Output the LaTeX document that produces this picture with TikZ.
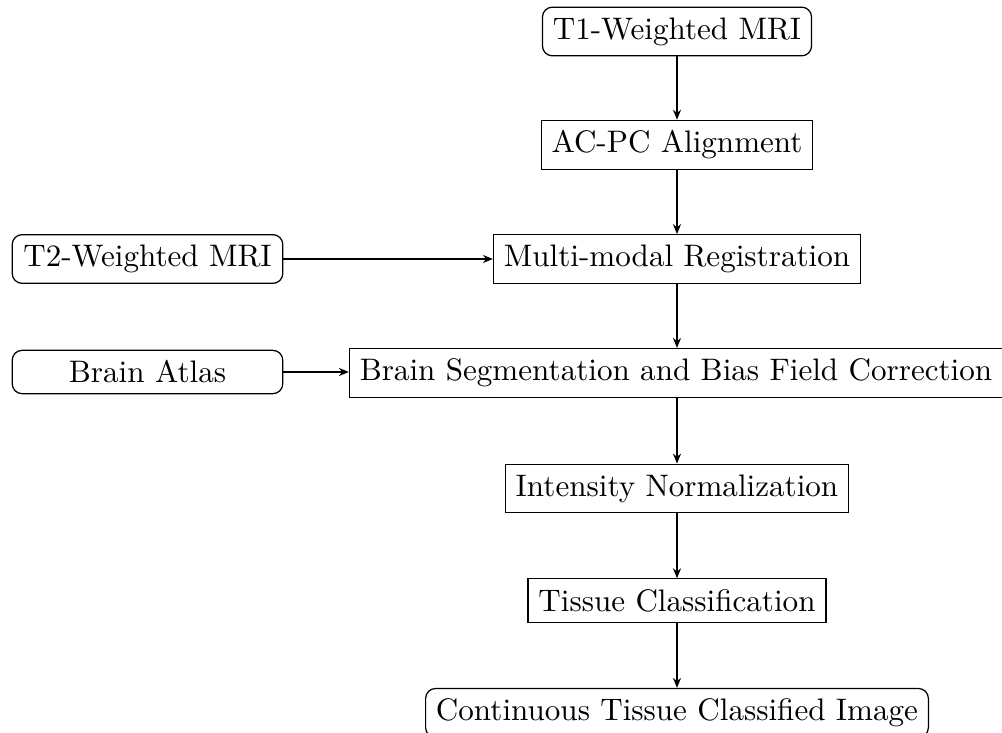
\documentclass[tikz,border=0pt]{standalone}
\usetikzlibrary{arrows.meta}
\begin{document}
\begin{tikzpicture}[x=0.3215pt,y=-0.3215pt,
  proc/.style={draw,rectangle,inner sep=3.33pt},
  term/.style={draw,rectangle,rounded corners=3.2pt,inner sep=3.33pt},
  flow/.style={-{Stealth[length=3.2pt,width=2.6pt]},line width=0.35pt}]
\clip (0,0) rectangle (1002,732);
\useasboundingbox (0,0) rectangle (1002,732);
\node[term] (t1) at (677,31.5) {T1-Weighted MRI};
\node[proc] (acpc) at (677,145) {AC-PC Alignment};
\node[term,minimum width=87pt] (t2) at (147.5,259) {T2-Weighted MRI};
\node[proc] (mmr) at (677,259) {Multi-modal Registration};
\node[term,minimum width=87pt] (atlas) at (147.5,372) {Brain Atlas};
\node[proc] (seg) at (676,373) {Brain Segmentation and Bias Field Correction};
\node[proc] (inorm) at (677,488.5) {Intensity Normalization};
\node[proc] (tc) at (677,600.5) {Tissue Classification};
\node[term] (cti) at (677,713) {Continuous Tissue Classified Image};
\draw[flow] (t1) -- (acpc);
\draw[flow] (acpc) -- (mmr);
\draw[flow] (t2) -- (mmr);
\draw[flow] (mmr.south -| acpc.south) -- (acpc.south |- seg.north);
\draw[flow] (atlas) -- (atlas.east -| seg.west);
\draw[flow] (seg.south -| acpc.south) -- (acpc.south |- inorm.north);
\draw[flow] (inorm) -- (tc);
\draw[flow] (tc) -- (cti);
\end{tikzpicture}
\end{document}
